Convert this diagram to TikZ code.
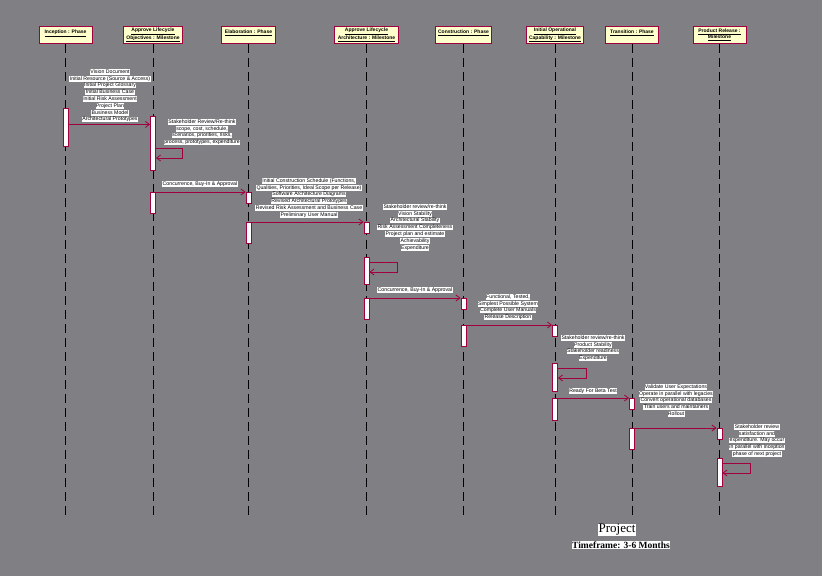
\documentclass[tikz,border=0pt]{standalone}
\usepackage{fontspec}
\setmainfont{Liberation Serif}
\setsansfont{Liberation Sans}
\usetikzlibrary{arrows.meta}

\definecolor{canvasgray}{RGB}{128,127,131}
\definecolor{umlred}{RGB}{160,0,64}
\definecolor{noteyellow}{RGB}{255,255,204}

\setlength{\fboxsep}{0.4pt}
\newcommand{\wl}[1]{\colorbox{white}{\vphantom{Ag}#1}}

\begin{document}
\begin{tikzpicture}[
  x=1pt,y=-1pt,
  font=\sffamily,
  phase/.style={draw=umlred,fill=noteyellow,line width=0.9pt,minimum width=53pt,minimum height=17pt,
    inner xsep=3pt,inner ysep=1.5pt,align=center,font=\sffamily\bfseries\fontsize{5}{6.2}\selectfont},
  life/.style={black,line width=1pt,dash pattern=on 9pt off 5pt},
  bar/.style={draw=umlred,fill=white,line width=0.9pt,minimum width=5pt,inner sep=0pt,anchor=north},
  msg/.style={-{Straight Barb[length=4pt,width=6pt]},umlred,line width=0.8pt},
  note/.style={align=center,inner sep=0pt,anchor=north,font=\sffamily\fontsize{5.2}{6.8}\selectfont}]

  % Canvas
  \fill[canvasgray] (0,0) rectangle (822,576);
  \useasboundingbox (0,0) rectangle (822,576);

  % Phases and milestones along the top
  \node[phase] (inc) at (65.5,35) {\underline{Inception : Phase}\\~};
  \node[phase] (alo) at (153,35) {\underline{Approve Lifecycle}\\\underline{Objectives : Milestone}};
  \node[phase] (ela) at (248.5,35) {\underline{Elaboration : Phase}\\~};
  \node[phase] (ala) at (366.5,35) {\underline{Approve Lifecycle}\\\underline{Architecture : Milestone}};
  \node[phase] (con) at (463.5,35) {\underline{Construction : Phase}\\~};
  \node[phase] (ioc) at (555,35) {\underline{Initial Operational}\\\underline{Capability : Milestone}};
  \node[phase] (tra) at (632,35) {\underline{Transition : Phase}\\~};
  \node[phase] (prl) at (719.5,35) {\underline{Product Release :}\\\underline{Milestone}};

  % Lifelines
  \coordinate (bot) at (0,515);
  \draw[life] (inc.south) -- (inc.south |- bot);
  \draw[life] (alo.south) -- (alo.south |- bot);
  \draw[life] (ela.south) -- (ela.south |- bot);
  \draw[life] (ala.south) -- (ala.south |- bot);
  \draw[life] (con.south) -- (con.south |- bot);
  \draw[life] (ioc.south) -- (ioc.south |- bot);
  \draw[life] (tra.south) -- (tra.south |- bot);
  \draw[life] (prl.south) -- (prl.south |- bot);

  % Activations
  \node[bar,minimum height=38] (inc1) at (65.5,108) {};
  \node[bar,minimum height=54] (alo1) at (153,116) {};
  \node[bar,minimum height=21] (alo2) at (153,192) {};
  \node[bar,minimum height=11] (ela1) at (248.5,192) {};
  \node[bar,minimum height=21] (ela2) at (248.5,222) {};
  \node[bar,minimum height=11] (ala1) at (366.5,222) {};
  \node[bar,minimum height=27] (ala2) at (366.5,257) {};
  \node[bar,minimum height=21] (ala3) at (366.5,298) {};
  \node[bar,minimum height=11] (con1) at (463.5,298) {};
  \node[bar,minimum height=21] (con2) at (463.5,325) {};
  \node[bar,minimum height=11] (ioc1) at (555,325) {};
  \node[bar,minimum height=28] (ioc2) at (555,363) {};
  \node[bar,minimum height=22] (ioc3) at (555,398) {};
  \node[bar,minimum height=11] (tra1) at (632,398) {};
  \node[bar,minimum height=21] (tra2) at (632,428) {};
  \node[bar,minimum height=11] (prl1) at (719.5,428) {};
  \node[bar,minimum height=28] (prl2) at (719.5,458) {};

  % Messages
  \coordinate (m1) at ([yshift=3pt]inc1.east);
  \draw[msg] (m1) -- (m1 -| alo1.west);
  \draw[msg] ([yshift=-32pt]alo1.north east) -- ++(26,0) |- ([yshift=-42pt]alo1.north east);
  \draw[msg] (alo2.north east) -- (ela1.north west);
  \draw[msg] (ela2.north east) -- (ala1.north west);
  \draw[msg] ([yshift=-5pt]ala2.north east) -- ++(28,0) |- ([yshift=-15pt]ala2.north east);
  \draw[msg] (ala3.north east) -- (con1.north west);
  \draw[msg] (con2.north east) -- (ioc1.north west);
  \draw[msg] ([yshift=-5pt]ioc2.north east) -- ++(28,0) |- ([yshift=-15pt]ioc2.north east);
  \draw[msg] (ioc3.north east) -- (tra1.north west);
  \draw[msg] (tra2.north east) -- (prl1.north west);
  \draw[msg] ([yshift=-5pt]prl2.north east) -- ++(28,0) |- ([yshift=-15pt]prl2.north east);

  % Message labels
  \node[note] (n1) at (110,69) {\wl{Vision Document}\\\wl{Initial Resource (Source \& Access)}\\\wl{Initial Project Glossary}\\\wl{Initial Business Case}\\\wl{Initial Risk Assessment}\\\wl{Project Plan}\\\wl{Business Model}\\\wl{Architectural Prototypes}};
  \node[note] (n2) at (202,119) {\wl{Stakeholder Review/Re-think}\\\wl{scope, cost, schedule,}\\\wl{scenarios, priorities, risks,}\\\wl{process, prototypes, expenditure}};
  \node[note] (n3) at (200,181) {\wl{Concurrence, Buy-In \& Approval}};
  \node[note] (n4) at (309,178) {\wl{Initial Construction Schedule (Functions,}\\\wl{Qualities, Priorities, Ideal Scope per Release)}\\\wl{Software Architecture Diagrams}\\\wl{Revised Architectural Prototypes}\\\wl{Revised Risk Assessment and Business Case}\\\wl{Preliminary User Manual}};
  \node[note] (n5) at (415,204) {\wl{Stakeholder review/re-think}\\\wl{Vision Stability}\\\wl{Architectural Stability}\\\wl{Risk Assessment Completeness}\\\wl{Project plan and estimate}\\\wl{Achievability}\\\wl{Expenditure}};
  \node[note] (n6) at (415,287) {\wl{Concurrence, Buy-In \& Approval}};
  \node[note] (n7) at (508,294) {\wl{Functional, Tested,}\\\wl{Simplest Possible System}\\\wl{Complete User Manuals}\\\wl{Release Description}};
  \node[note] (n8) at (593,335) {\wl{Stakeholder review/re-think}\\\wl{Product Stability}\\\wl{Stakeholder readiness}\\\wl{Expenditure}};
  \node[note] (n9) at (593,388) {\wl{Ready For Beta Test}};
  \node[note] (n10) at (676,384) {\wl{Validate User Expectations}\\\wl{Operate in parallel with legacies}\\\wl{Convert operational databases}\\\wl{Train users and maintainers}\\\wl{Rollout}};
  \node[note] (n11) at (757,424) {\wl{Stakeholder review}\\\wl{satisfaction and}\\\wl{expenditure. May occur}\\\wl{in parallel with inception}\\\wl{phase of next project}};

  % Title
  \node[fill=white,inner sep=0.8pt,font=\rmfamily\fontsize{13}{14}\selectfont] (prj) at (617,530) {Project};
  \node[fill=white,inner sep=0.6pt,font=\rmfamily\bfseries\fontsize{9.5}{10}\selectfont] (tf) at (621,545) {Timeframe: 3-6 Months};

\end{tikzpicture}
\end{document}
